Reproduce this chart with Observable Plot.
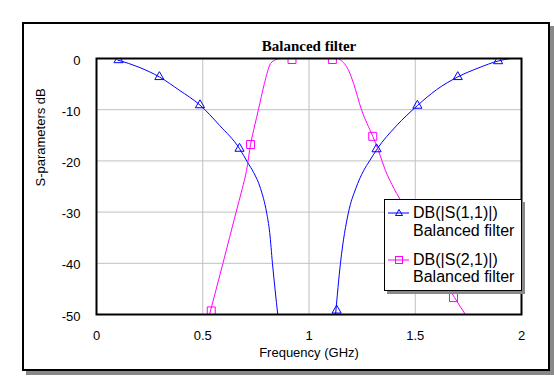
<!DOCTYPE html>
<html>
<head>
<meta charset="utf-8">
<script src="https://cdn.jsdelivr.net/npm/d3@7"></script>
<script src="https://cdn.jsdelivr.net/npm/@observablehq/plot@0.6"></script>
<style>
  html, body { margin: 0; padding: 0; background: white; overflow: hidden; }
  #wrap { position: relative; width: 554px; height: 376px; }
  #frame { position: absolute; left: 22px; top: 22px; width: 528px; height: 349px; box-sizing: border-box;
           border: 2px solid black; box-shadow: 4px 4px 0 #888; pointer-events: none; }
  #chart { position: absolute; left: 0; top: 0; }
  #legend { position: absolute; left: 384px; top: 199px; width: 138px; height: 92px; box-sizing: border-box;
            border: 1px solid black; background: white; box-shadow: 3px 3px 0 #888;
            font-family: Arial, "Liberation Sans", sans-serif; font-size: 16px; color: black; }
  #legend span { position: absolute; left: 28px; line-height: 18px; white-space: nowrap; }
  #legend svg { position: absolute; left: 0; top: 0; }
</style>
</head>
<body>
<div id="wrap">
  <div id="frame"></div>
  <div id="chart"></div>
  <div id="legend"></div>
</div>
<script>
// ---- data ----
const title = "Balanced filter";
const xLabel = "Frequency (GHz)";
const yLabel = "S-parameters dB";
const freqTicks = [0, 0.5, 1, 1.5, 2];
const dbTicks = [0, -10, -20, -30, -40, -50];
const freqGrid = [0.5, 1, 1.5];
const dbGrid = [-10, -20, -30, -40];

// S11 lower branch
const s11LowFreq = [0.10, 0.20, 0.296, 0.39, 0.487, 0.58, 0.673, 0.711, 0.74, 0.772, 0.80, 0.815, 0.828, 0.853];
const s11LowDb   = [-0.3, -1.7, -3.6, -6.2, -9.1, -13.1, -17.6, -20.3, -22.3, -25.4, -30, -34, -40, -50];
// S11 upper branch
const s11HighFreq = [1.125, 1.148, 1.186, 1.22, 1.257, 1.285, 1.32, 1.41, 1.51, 1.60, 1.70, 1.80, 1.89, 1.96, 2.0];
const s11HighDb   = [-50, -40, -30, -25.4, -21.9, -20, -17.7, -13.2, -9.2, -6.1, -3.6, -1.8, -0.5, 0, 0];
// S11 markers
const s11MarkFreq = [0.104, 0.296, 0.487, 0.673, 1.13, 1.318, 1.51, 1.70, 1.89];
const s11MarkDb   = [-0.3, -3.6, -9.1, -17.6, -49.2, -17.7, -9.2, -3.6, -0.5];

// S21
const s21Freq = [0.532, 0.595, 0.657, 0.686, 0.706, 0.725, 0.745, 0.762, 0.79, 0.819, 0.845, 0.87, 1.13, 1.148, 1.186, 1.21, 1.247, 1.30, 1.327, 1.36, 1.40, 1.45, 1.55, 1.62, 1.666, 1.685, 1.736];
const s21Db   = [-50, -40, -30, -25.4, -21.9, -16.8, -13, -10, -4.9, -1.0, -0.2, 0, 0, -0.3, -2.3, -4.9, -10, -15.2, -18, -21.9, -25.4, -29, -36.5, -41.8, -45.4, -46.7, -50];
// S21 markers
const s21MarkFreq = [0.54, 0.725, 0.92, 1.11, 1.30, 1.68];
const s21MarkDb   = [-49.3, -16.8, -0.2, -0.2, -15.2, -46.7];

const seriesNames = ["DB(|S(1,1)|)", "DB(|S(2,1)|)"];
const seriesSub = "Balanced filter";
const colors = ["#0000ff", "#ff00ff"];

const toRows = (fs, ds) => fs.map((f, i) => ({f, db: ds[i]}));
const s11Low = toRows(s11LowFreq, s11LowDb);
const s11High = toRows(s11HighFreq, s11HighDb);
const s11Marks = toRows(s11MarkFreq, s11MarkDb);
const s21 = toRows(s21Freq, s21Db);
const s21Marks = toRows(s21MarkFreq, s21MarkDb);

const sans = "Arial, 'Liberation Sans', sans-serif";

const chart = Plot.plot({
  width: 554,
  height: 376,
  marginLeft: 96,
  marginRight: 33,
  marginTop: 58,
  marginBottom: 62,
  style: {background: "transparent", fontFamily: sans, fontSize: "13px", color: "black"},
  x: {domain: [0, 2]},
  y: {domain: [-50, 0]},
  marks: [
    Plot.gridX(freqGrid, {stroke: "#c0c0c0", strokeOpacity: 1, strokeWidth: 1}),
    Plot.gridY(dbGrid, {stroke: "#c0c0c0", strokeOpacity: 1, strokeWidth: 1}),
    Plot.line(s11Low, {x: "f", y: "db", stroke: colors[0], strokeWidth: 1, curve: "monotone-x", clip: true}),
    Plot.line(s11High, {x: "f", y: "db", stroke: colors[0], strokeWidth: 1, curve: "monotone-x", clip: true}),
    Plot.line(s21, {x: "f", y: "db", stroke: colors[1], strokeWidth: 1, curve: "monotone-x", clip: true}),
    Plot.dot(s11Marks, {x: "f", y: "db", symbol: "triangle", r: 3.4, stroke: colors[0], fill: "none", strokeWidth: 1, clip: true}),
    Plot.dot(s21Marks, {x: "f", y: "db", symbol: "square", r: 4.5, stroke: colors[1], fill: "none", strokeWidth: 1, clip: true}),
    Plot.frame({stroke: "black", strokeWidth: 2}),
    Plot.axisX(freqTicks, {tickSize: 0, tickPadding: 16, tickFormat: d => String(d), label: null, fontSize: 13}),
    Plot.axisY(dbTicks, {tickSize: 0, tickPadding: 16, tickFormat: d => String(d), label: null, fontSize: 13, dy: 2}),
    Plot.text([title], {text: d => d, frameAnchor: "top", dy: -12, lineAnchor: "middle",
      fontWeight: "bold", fontFamily: "'Liberation Serif', 'Times New Roman', serif", fontSize: 15}),
    Plot.text([xLabel], {text: d => d, frameAnchor: "bottom", dy: 38, lineAnchor: "middle", fontSize: 13}),
    Plot.text([yLabel], {text: d => d, frameAnchor: "left", dx: -56, rotate: -90, lineAnchor: "middle", fontSize: 13})
  ]
});
document.getElementById("chart").appendChild(chart);

// legend
const legend = document.getElementById("legend");
const ns = "http://www.w3.org/2000/svg";
const lsvg = document.createElementNS(ns, "svg");
lsvg.setAttribute("width", 136);
lsvg.setAttribute("height", 90);
const rows = [13, 60];
rows.forEach((cy, i) => {
  const ln = document.createElementNS(ns, "line");
  ln.setAttribute("x1", 3); ln.setAttribute("x2", 24);
  ln.setAttribute("y1", cy); ln.setAttribute("y2", cy);
  ln.setAttribute("stroke", colors[i]); ln.setAttribute("stroke-width", 1);
  lsvg.appendChild(ln);
  if (i === 0) {
    const p = document.createElementNS(ns, "polygon");
    p.setAttribute("points", `${14-3.5},${cy+2.5} ${14+3.5},${cy+2.5} 14,${cy-3.5}`);
    p.setAttribute("fill", "none"); p.setAttribute("stroke", colors[i]);
    lsvg.appendChild(p);
  } else {
    const r = document.createElementNS(ns, "rect");
    r.setAttribute("x", 14 - 3.5); r.setAttribute("y", cy - 3.5);
    r.setAttribute("width", 7); r.setAttribute("height", 7);
    r.setAttribute("fill", "none"); r.setAttribute("stroke", colors[i]);
    lsvg.appendChild(r);
  }
});
legend.appendChild(lsvg);
const textTops = [[4, 22], [51, 68]];
seriesNames.forEach((name, i) => {
  const a = document.createElement("span");
  a.textContent = name; a.style.top = textTops[i][0] + "px";
  const b = document.createElement("span");
  b.textContent = seriesSub; b.style.top = textTops[i][1] + "px";
  legend.appendChild(a); legend.appendChild(b);
});
</script>
</body>
</html>
